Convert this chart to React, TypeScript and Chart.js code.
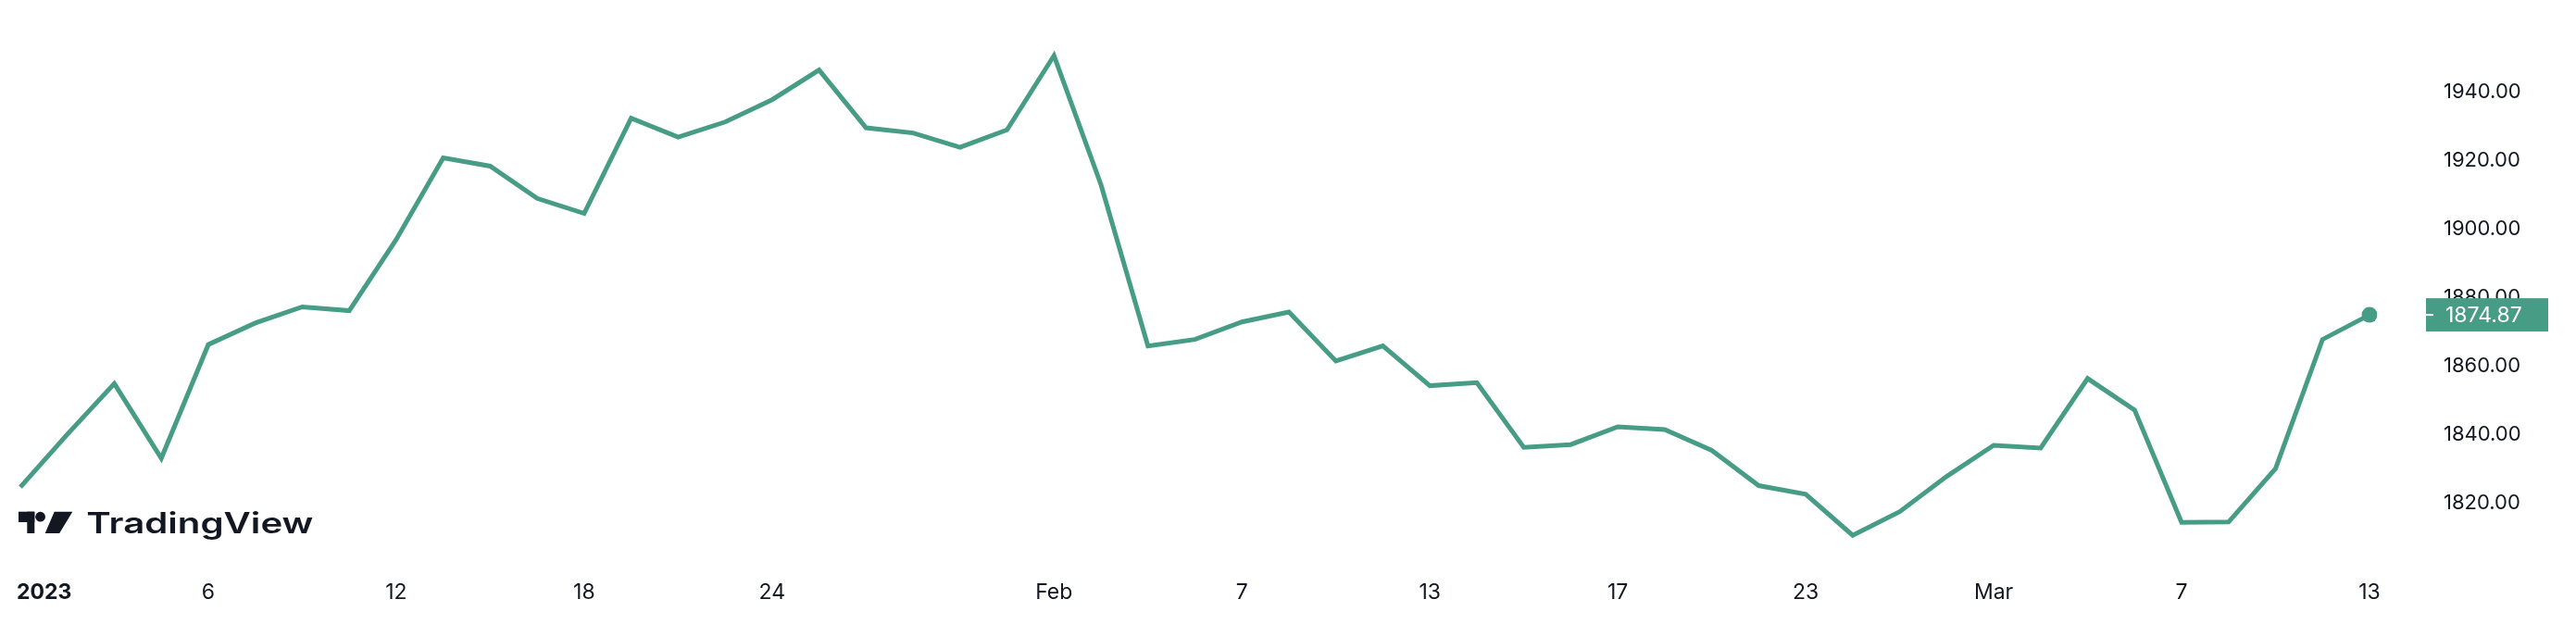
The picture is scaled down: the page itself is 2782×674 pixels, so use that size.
import React, { useEffect, useRef } from "react";
import { Chart, registerables } from "chart.js";

Chart.register(...registerables);

const dates = [
  "2023-01-02", "2023-01-03", "2023-01-04", "2023-01-05", "2023-01-06",
  "2023-01-09", "2023-01-10", "2023-01-11", "2023-01-12", "2023-01-13",
  "2023-01-16", "2023-01-17", "2023-01-18", "2023-01-19", "2023-01-20",
  "2023-01-23", "2023-01-24", "2023-01-25", "2023-01-26", "2023-01-27",
  "2023-01-30", "2023-01-31", "2023-02-01", "2023-02-02", "2023-02-03",
  "2023-02-06", "2023-02-07", "2023-02-08", "2023-02-09", "2023-02-10",
  "2023-02-13", "2023-02-14", "2023-02-15", "2023-02-16", "2023-02-17",
  "2023-02-20", "2023-02-21", "2023-02-22", "2023-02-23", "2023-02-24",
  "2023-02-27", "2023-02-28", "2023-03-01", "2023-03-02", "2023-03-03",
  "2023-03-06", "2023-03-07", "2023-03-08", "2023-03-09", "2023-03-10",
  "2023-03-13",
];

const prices = [
  1824.6, 1840.0, 1854.8, 1833.0, 1866.2,
  1872.5, 1877.2, 1876.1, 1896.9, 1920.7,
  1918.3, 1908.9, 1904.5, 1932.3, 1926.8,
  1931.2, 1937.7, 1946.4, 1929.5, 1928.0,
  1923.8, 1928.9, 1950.6, 1912.9, 1865.8,
  1867.7, 1872.8, 1875.7, 1861.4, 1865.8,
  1854.2, 1855.1, 1836.2, 1837.0, 1842.2,
  1841.4, 1835.3, 1825.0, 1822.5, 1810.5,
  1817.4, 1827.7, 1836.8, 1836.0, 1856.3,
  1847.1, 1814.3, 1814.4, 1830.0, 1867.7,
  1874.87,
];

const tickDates = [
  "2023-01-02", "2023-01-06", "2023-01-12", "2023-01-18", "2023-01-24",
  "2023-02-01", "2023-02-07", "2023-02-13", "2023-02-17", "2023-02-23",
  "2023-03-01", "2023-03-07", "2023-03-13",
];
const tickTexts = ["2023", "6", "12", "18", "24", "Feb", "7", "13", "17", "23", "Mar", "7", "13"];
const priceTicks = [1820, 1840, 1860, 1880, 1900, 1920, 1940];
const lastPriceLabel = "1874.87";
const brandName = "TradingView";

const LINE_COLOR = "#479C85";
const TEXT_COLOR = "#131722";

const overlayPlugin = {
  id: "tvOverlay",
  beforeDraw(chart: any) {
    // TradingView starts the first (year) label at the left edge instead of centring it
    const xs = chart.scales.x;
    const items = xs.getLabelItems(chart.chartArea);
    const first = items.find((it: any) => it.label === tickTexts[0]);
    if (first && first.options && first.options.translation) {
      first.options.textAlign = "left";
      first.options.translation = [chart.chartArea.left - 4, first.options.translation[1]];
    }
  },
  afterDraw(chart: any) {
    const ctx = chart.ctx as CanvasRenderingContext2D;
    const yScale = chart.scales.y;
    const last = prices.length - 1;
    const py = yScale.getPixelForValue(prices[last]);
    ctx.save();
    // price label box
    const bx = chart.chartArea.right + 61;
    ctx.fillStyle = LINE_COLOR;
    ctx.fillRect(bx, py - 18, 132, 36);
    ctx.fillStyle = "#ffffff";
    ctx.fillRect(bx, py - 1, 8, 2);
    ctx.font = "23px Inter";
    ctx.textBaseline = "middle";
    ctx.textAlign = "left";
    ctx.fillText(lastPriceLabel, bx + 21, py + 1);

    // logo
    ctx.fillStyle = TEXT_COLOR;
    ctx.fillRect(20, 552.7, 17.3, 11.3);
    ctx.fillRect(29.3, 552.7, 8, 23.3);
    ctx.beginPath();
    ctx.arc(43.6, 558.2, 5.4, 0, Math.PI * 2);
    ctx.fill();
    ctx.beginPath();
    ctx.moveTo(58.7, 552.7);
    ctx.lineTo(78.3, 552.7);
    ctx.lineTo(64.2, 576);
    ctx.lineTo(48.7, 576);
    ctx.closePath();
    ctx.fill();

    ctx.font = "600 31px Inter";
    ctx.textBaseline = "alphabetic";
    const w = ctx.measureText(brandName).width;
    const target = 245;
    ctx.translate(93.3, 576);
    ctx.scale(target / w, 1);
    ctx.fillText(brandName, 0, 0);
    ctx.restore();
  },
};

export default function App() {
  const ref = useRef<HTMLCanvasElement | null>(null);

  useEffect(() => {
    if (!ref.current) return;
    const last = prices.length - 1;
    const chart = new Chart(ref.current, {
      type: "line",
      data: {
        labels: dates,
        datasets: [
          {
            data: prices,
            borderColor: LINE_COLOR,
            backgroundColor: LINE_COLOR,
            borderWidth: 5,
            tension: 0,
            fill: false,
            pointRadius: (c: any) => (c.dataIndex === last ? 8.5 : 0),
            pointHoverRadius: 0,
            pointBorderWidth: 0,
            pointBackgroundColor: LINE_COLOR,
          },
        ],
      },
      options: {
        responsive: false,
        animation: false,
        devicePixelRatio: 1,
        layout: { padding: { left: 22, top: 0, right: 0, bottom: 0 } },
        plugins: { legend: { display: false }, tooltip: { enabled: false } },
        events: [],
        scales: {
          x: {
            type: "category",
            offset: false,
            grid: { display: false, drawTicks: false },
            border: { display: false },
            ticks: {
              autoSkip: false,
              maxRotation: 0,
              minRotation: 0,
              padding: 6,
              color: TEXT_COLOR,
              font: (c: any) => ({
                family: "Inter",
                size: 23,
                weight: c.tick && c.tick.label === "2023" ? "700" : "400",
              }),
              callback: (_v: any, i: number) => {
                const k = tickDates.indexOf(dates[i]);
                return k >= 0 ? tickTexts[k] : "";
              },
            },
            afterFit: (s: any) => {
              s.height = 54;
              s.paddingLeft = 0;
              s.paddingRight = 0;
            },
          },
          y: {
            position: "right",
            min: 1799.2,
            max: 1964.53,
            grid: { display: false, drawTicks: false },
            border: { display: false },
            ticks: {
              padding: 80,
              color: TEXT_COLOR,
              font: { family: "Inter", size: 22 },
              callback: (v: any) => Number(v).toFixed(2),
            },
            afterBuildTicks: (s: any) => {
              s.ticks = priceTicks.map((v) => ({ value: v }));
            },
            afterFit: (s: any) => {
              s.width = 223;
              s.paddingTop = 0;
              s.paddingBottom = 0;
            },
          },
        },
      } as any,
      plugins: [overlayPlugin],
    });
    return () => chart.destroy();
  }, []);

  return (
    <div style={{ position: "fixed", left: 0, top: 0, width: 2782, height: 674, background: "#ffffff" }}>
      <canvas ref={ref} width={2782} height={674} style={{ width: 2782, height: 674, display: "block" }} />
    </div>
  );
}
